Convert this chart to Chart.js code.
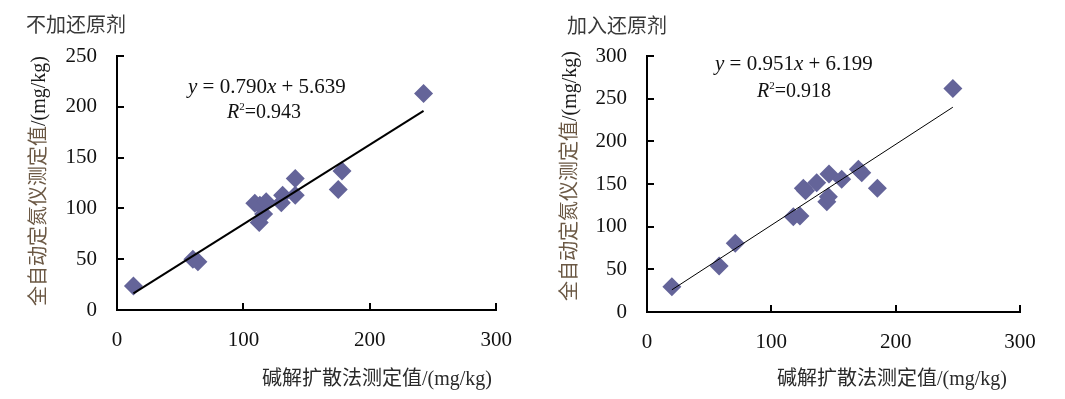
<!DOCTYPE html>
<html>
<head>
<meta charset="utf-8">
<script src="https://cdn.jsdelivr.net/npm/chart.js@4.4.0/dist/chart.umd.min.js"></script>
<style>
  html, body { margin: 0; padding: 0; background: #fff; }
  #wrap { position: relative; width: 1065px; height: 399px; }
  .box { position: absolute; top: 0; height: 399px; }
  #left { left: 0; width: 530px; }
  #right { left: 530px; width: 535px; }
</style>
</head>
<body>
<div id="wrap">
  <div class="box" id="left"><canvas id="c1"></canvas></div>
  <div class="box" id="right"><canvas id="c2"></canvas></div>
</div>
<script>
// 不加还原剂 (碱解扩散法 x, 全自动定氮仪 y)
const noRedX = [13, 60, 64, 109, 113, 118, 112.5, 116, 131, 130, 141, 141, 178, 175, 242.5];
const noRedY = [23.5, 50, 47.5, 105, 103, 106.5, 86, 94.5, 113, 105.5, 129.5, 113, 136.7, 118.7, 213];
const noRedFitX = [13, 242.5];
const noRedFitY = [16.4, 196];
const noRedYTicks = [0, 50, 100, 150, 200, 250];

// 加入还原剂
const redX = [20, 58, 71, 117.7, 123, 125.7, 127.5, 136.5, 146.4, 144.6, 145.9, 156.6, 170, 172.7, 185.3, 246];
const redY = [29.7, 54, 80.5, 111.7, 112.5, 145, 142, 151.6, 161.8, 129.3, 135.2, 155.6, 167.3, 163.3, 145, 262];
const redFitX = [20, 246];
const redFitY = [26, 240];
const redYTicks = [0, 50, 100, 150, 200, 250, 300];

const xTicks = [0, 100, 200, 300];

const serif = '"Liberation Serif", "Times New Roman", serif';
const mixed = '"Liberation Serif", "Noto Sans CJK SC", serif';
const cjk = '"Noto Sans CJK SC", sans-serif';

function toPoints(xs, ys) {
    return xs.map((x, i) => ({ x: x, y: ys[i] }));
}

// 刻度线朝内 + 文字 (标题, 坐标轴标题, 回归方程)
const decor = {
    id: 'decor',
    afterDraw(chart, args, o) {
        const ctx = chart.ctx;
        const area = chart.chartArea;
        const xs = chart.scales.x, ys = chart.scales.y;
        ctx.save();
        ctx.strokeStyle = '#000';
        ctx.lineWidth = 2;
        ctx.beginPath();
        xs.ticks.forEach(t => {
            if (t.value === 0) return;
            const px = Math.round(xs.getPixelForValue(t.value));
            ctx.moveTo(px, area.bottom);
            ctx.lineTo(px, area.bottom - 7);
        });
        ys.ticks.forEach(t => {
            if (t.value === 0) return;
            const py = Math.round(ys.getPixelForValue(t.value));
            ctx.moveTo(area.left, py);
            ctx.lineTo(area.left + 7, py);
        });
        ctx.stroke();

        ctx.textBaseline = 'middle';

        // 面板标题
        ctx.font = '20px ' + cjk;
        ctx.fillStyle = '#3a3a3a';
        ctx.textAlign = 'left';
        ctx.fillText(o.title, o.titlePos[0], o.titlePos[1]);

        // x 轴标题
        ctx.font = '20px ' + mixed;
        ctx.fillStyle = '#2a2a2a';
        ctx.textAlign = 'right';
        ctx.fillText('碱解扩散法测定值/(mg/kg)', o.xTitlePos[0], o.xTitlePos[1]);

        // y 轴标题 (两种颜色)
        ctx.save();
        ctx.translate(o.yTitlePos[0], o.yTitlePos[1]);
        ctx.rotate(-Math.PI / 2);
        ctx.textAlign = 'left';
        const p1 = '全自动定氮仪测定值', p2 = '/(mg/kg)';
        ctx.font = '20px ' + mixed;
        const w1 = ctx.measureText(p1).width, w2 = ctx.measureText(p2).width;
        let sx = -(w1 + w2) / 2;
        ctx.fillStyle = '#6b5844';
        ctx.fillText(p1, sx, 0);
        ctx.fillStyle = '#1a1a1a';
        ctx.fillText(p2, sx + w1, 0);
        ctx.restore();

        // 回归方程
        ctx.textAlign = 'left';
        ctx.fillStyle = '#111';
        const it = 'italic 21px ' + serif, nm = '21px ' + serif;
        let x = o.eqPos[0];
        const y = o.eqPos[1];
        [[it, 'y'], [nm, ' = ' + o.slope], [it, 'x'], [nm, ' + ' + o.icpt]].forEach(s => {
            ctx.font = s[0];
            ctx.fillText(s[1], x, y);
            x += ctx.measureText(s[1]).width;
        });
        x = o.r2Pos[0];
        const y2 = o.r2Pos[1];
        ctx.font = 'italic 20px ' + serif;
        ctx.fillText('R', x, y2);
        x += ctx.measureText('R').width;
        ctx.font = '11px ' + serif;
        ctx.fillText('2', x, y2 - 6);
        x += ctx.measureText('2').width;
        ctx.font = '20px ' + serif;
        ctx.fillText('=' + o.r2, x, y2);
        ctx.restore();
    }
};

function makeChart(id, px, py, fitX, fitY, yTicks, yMax, lineW, padRight, xH, deco) {
    return new Chart(document.getElementById(id), {
        type: 'scatter',
        data: {
            datasets: [
                {
                    label: 'fit',
                    data: toPoints(fitX, fitY),
                    showLine: true,
                    borderColor: '#000',
                    borderWidth: lineW,
                    pointRadius: 0,
                    fill: false
                },
                {
                    label: 'data',
                    data: toPoints(px, py),
                    pointStyle: 'rectRot',
                    pointRadius: 9.5,
                    pointBackgroundColor: '#646499',
                    pointBorderColor: '#646499',
                    pointBorderWidth: 0
                }
            ]
        },
        options: {
            responsive: true,
            maintainAspectRatio: false,
            animation: false,
            events: [],
            layout: { padding: { left: 0, right: padRight, top: 56, bottom: 0 } },
            plugins: {
                legend: { display: false },
                tooltip: { enabled: false },
                decor: deco
            },
            scales: {
                x: {
                    type: 'linear',
                    min: 0, max: 300,
                    afterBuildTicks: s => { s.ticks = xTicks.map(v => ({ value: v })); },
                    afterFit: s => { s.height = xH; },
                    grid: { display: false, drawTicks: false },
                    border: { display: true, color: '#000', width: 2 },
                    ticks: { font: { family: serif, size: 21 }, color: '#111', padding: 18, maxRotation: 0 }
                },
                y: {
                    type: 'linear',
                    min: 0, max: yMax,
                    afterBuildTicks: s => { s.ticks = yTicks.map(v => ({ value: v })); },
                    afterFit: s => { s.width = 117; },
                    grid: { display: false, drawTicks: false },
                    border: { display: true, color: '#000', width: 2 },
                    ticks: { font: { family: serif, size: 21 }, color: '#111', padding: 20 }
                }
            }
        },
        plugins: [decor]
    });
}

makeChart('c1', noRedX, noRedY, noRedFitX, noRedFitY, noRedYTicks, 250, 2, 23, 89, {
    title: '不加还原剂', titlePos: [26, 24],
    xTitlePos: [492, 380], yTitlePos: [40, 181],
    eqPos: [188, 87], slope: '0.790', icpt: '5.639',
    r2Pos: [227, 113], r2: '0.943'
});

makeChart('c2', redX, redY, redFitX, redFitY, redYTicks, 300, 1, 45, 87, {
    title: '加入还原剂', titlePos: [37, 25],
    xTitlePos: [477, 380], yTitlePos: [41, 176],
    eqPos: [185, 64], slope: '0.951', icpt: '6.199',
    r2Pos: [227, 92], r2: '0.918'
});
</script>
</body>
</html>
